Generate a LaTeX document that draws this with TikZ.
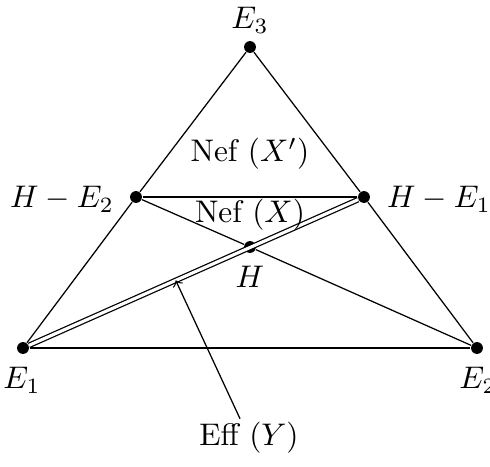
\documentclass[tikz,border=0pt]{standalone}
\usepackage{amsmath}
\tikzset{vtx/.style={circle,fill=black,inner sep=0pt,minimum size=3.8pt},
         e/.style={line width=0.4pt},
  blackedge/.style={line width=0.8pt},
  dbledge/.style={double,double distance=1pt,line width=0.4pt},
  lab/.style={inner sep=1pt}
         }

\begin{document}
\begin{tikzpicture}[x=0.32pt,y=-0.32pt]
        \useasboundingbox (0,0) rectangle (490,466);
        \node[vtx] (E3) at (250,47) {};
        \node[vtx] (HE2) at (136,197) {};
        \node[vtx] (HE1) at (364,197) {};
        \node[vtx] (H) at (250,247) {};
        \node[vtx] (E1) at (23,348) {};
        \node[vtx] (E2) at (477,348) {};

        \draw[e] (E3) -- (HE2) -- (E1);
        \draw[e] (E3) -- (HE1) -- (E2);
        \draw[e] (HE2) -- (H) -- (E2);
        \draw[blackedge] (HE2) -- (HE1);
        \draw[blackedge] (E1) -- (E2);
        \draw[dbledge] (E1) -- (HE1);

        \node[lab] (lE3) at (250,20) {$E_3$};
        \node[lab] (lHE2) at (62,199) {$H-E_2$};
        \node[lab] (lHE1) at (439,199) {$H-E_1$};
        \node[lab] (lH) at (250,277) {$H$};
        \node[lab] (lE1) at (22,380) {$E_1$};
        \node[lab] (lE2) at (478,380) {$E_2$};
        \node[lab] (nefXp) at (250,154) {Nef~$(X')$};
        \node[lab] (nefX) at (250,215) {Nef~$(X)$};
        \node[lab] (effY) at (249,438) {Eff~$(Y)$};

        \path (E1) -- (HE1) coordinate[pos=0.446] (effpt);
        \draw[e,->] (effY) -- (effpt);
\end{tikzpicture}
\end{document}
